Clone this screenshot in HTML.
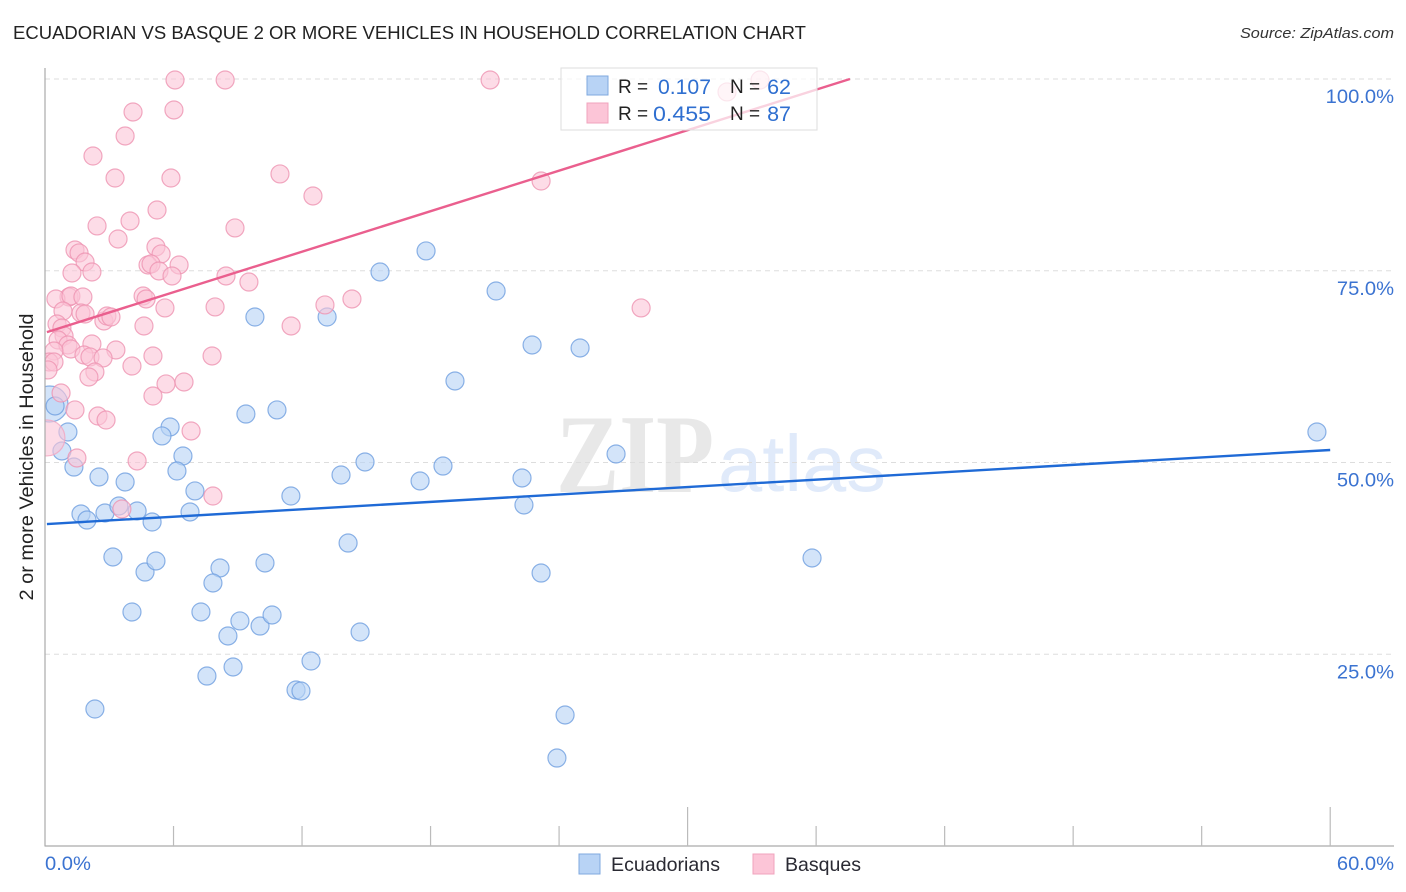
<!DOCTYPE html>
<html lang="en">
<head>
<meta charset="utf-8">
<title>Ecuadorian vs Basque 2 or More Vehicles in Household Correlation Chart</title>
<style>
html,body{margin:0;padding:0;background:#fff;width:1406px;height:892px;overflow:hidden}
svg{display:block}
text{font-family:"Liberation Sans",sans-serif}
</style>
</head>
<body>
<svg id="chart" width="1406" height="892" viewBox="0 0 1406 892" xmlns="http://www.w3.org/2000/svg">
  <defs>
    <clipPath id="plot-clip"><rect x="45" y="68" width="1349" height="778"></rect></clipPath>
  </defs>
  <text x="13" y="39" font-size="18.5" fill="#222" textLength="793" lengthAdjust="spacingAndGlyphs">ECUADORIAN VS BASQUE 2 OR MORE VEHICLES IN HOUSEHOLD CORRELATION CHART</text>
  <text x="1394" y="38" font-size="15" font-style="italic" fill="#333" text-anchor="end" textLength="154" lengthAdjust="spacingAndGlyphs">Source: ZipAtlas.com</text>

  <g>
    <text x="556" y="492" style="font-family:'Liberation Serif',serif;font-weight:bold" font-size="112" fill="#e8e8e8" textLength="158" lengthAdjust="spacingAndGlyphs">ZIP</text>
    <text x="718" y="491" font-size="80" fill="#e0eafa" textLength="168" lengthAdjust="spacingAndGlyphs">atlas</text>
  </g>

  <g id="grid"></g>
  <g id="points-ecuadorian" clip-path="url(#plot-clip)"></g>
  <g id="points-basque" clip-path="url(#plot-clip)"></g>
  <g id="trends" clip-path="url(#plot-clip)"></g>
  <g id="axes"></g>

  <text transform="translate(33,457) rotate(-90)" font-size="19" fill="#222" text-anchor="middle" textLength="287" lengthAdjust="spacingAndGlyphs">2 or more Vehicles in Household</text>

  <g>
    <rect x="561" y="68" width="256" height="62" fill="#fff" fill-opacity="0.72" stroke="#ddd" stroke-width="1"></rect>
    <rect x="587" y="76" width="21" height="19" fill="#b8d3f5" stroke="#7fa8df" stroke-width="1"></rect>
    <rect x="587" y="103" width="21" height="20" fill="#fcc5d7" stroke="#f0a3bc" stroke-width="1"></rect>
    <text x="618" y="93" font-size="19" fill="#222">R =</text>
    <text x="711" y="94" font-size="21.5" fill="#2f6fd0" text-anchor="end" textLength="53" lengthAdjust="spacingAndGlyphs">0.107</text>
    <text x="730" y="93" font-size="19" fill="#222">N =</text>
    <text x="791" y="94" font-size="21.5" fill="#2f6fd0" text-anchor="end">62</text>
    <text x="618" y="120" font-size="19" fill="#222">R =</text>
    <text x="711" y="121" font-size="21.5" fill="#2f6fd0" text-anchor="end" textLength="58" lengthAdjust="spacingAndGlyphs">0.455</text>
    <text x="730" y="120" font-size="19" fill="#222">N =</text>
    <text x="791" y="121" font-size="21.5" fill="#2f6fd0" text-anchor="end">87</text>
  </g>

  <g>
    <rect x="579" y="854" width="21" height="20" fill="#b8d3f5" stroke="#7fa8df" stroke-width="1"></rect>
    <text x="611" y="871" font-size="19.5" fill="#2a2a33" textLength="109" lengthAdjust="spacingAndGlyphs">Ecuadorians</text>
    <rect x="753" y="854" width="21" height="20" fill="#fcc5d7" stroke="#f0a3bc" stroke-width="1"></rect>
    <text x="785" y="871" font-size="19.5" fill="#2a2a33" textLength="76" lengthAdjust="spacingAndGlyphs">Basques</text>
  </g>
</svg>

<script>
const ecuadorianX = [0.47,1.07,0.79,1.35,2.52,3.74,1.68,1.96,2.8,3.45,4.3,5.0,3.17,4.67,5.18,4.06,2.33,5.84,5.46,6.44,6.16,7.0,6.77,9.38,10.83,9.8,13.17,8.17,7.84,7.28,9.1,8.54,10.04,10.6,10.27,8.78,7.56,12.42,11.72,11.95,14.71,14.15,11.48,13.82,14.94,17.51,18.58,19.14,15.64,17.79,21.06,22.74,24.98,22.27,22.36,23.16,24.28,23.9,26.66,35.81,59.38];
const ecuadorianY = [57.37,53.98,51.5,49.41,48.11,47.46,43.29,42.5,43.42,44.33,43.68,42.24,37.68,35.72,37.16,30.51,17.86,54.63,53.46,50.85,48.89,46.29,43.55,56.32,56.85,68.97,68.97,36.25,34.29,30.51,29.34,27.38,28.68,30.12,36.9,23.34,22.16,24.12,20.34,20.21,27.9,39.5,45.63,48.37,50.07,47.59,49.54,60.63,74.84,77.58,72.36,65.32,64.93,47.98,44.46,35.59,17.08,11.47,51.11,37.55,53.98];
const ecuadorianLargeX = [0.23];
const ecuadorianLargeY = [57.63];

const basqueX = [6.07,8.41,20.78,33.38,31.84,4.11,6.02,3.74,2.24,3.27,5.88,10.97,12.51,23.16,5.23,3.97,2.43,3.41,8.87,5.18,1.4,1.59,5.42,1.87,4.81,4.95,6.26,1.26,2.19,5.32,5.93,8.45,9.52,1.12,0.51,1.21,1.77,4.58,4.72,5.6,7.94,13.07,14.33,27.83,11.49,0.84,1.68,1.87,2.75,2.89,3.08,0.56,0.79,0.89,4.62,0.61,1.07,1.21,2.19,3.31,0.42,1.82,2.1,2.71,7.8,5.04,0.19,0.42,4.06,2.33,2.05,5.65,6.49,0.75,5.04,1.4,2.47,2.85,6.82,1.49,4.3,7.84,3.59,0.14];
const basqueY = [99.87,99.87,99.87,99.87,98.31,95.7,95.96,92.57,89.96,87.09,87.09,87.62,84.75,86.7,82.92,81.49,80.84,79.14,80.58,78.1,77.71,77.32,77.19,76.14,75.75,75.88,75.75,74.71,74.84,74.97,74.32,74.32,73.53,71.58,71.32,71.71,71.58,71.71,71.32,70.15,70.28,70.54,71.32,70.15,67.8,69.75,69.49,69.36,68.45,69.1,68.97,68.06,67.54,66.5,67.8,65.97,65.32,64.8,65.45,64.67,64.54,64.02,63.76,63.63,63.89,63.89,63.1,63.1,62.58,61.8,61.15,60.24,60.5,59.06,58.67,56.85,56.06,55.54,54.11,50.59,50.2,45.63,43.94,62.07];
const basqueLargeX = [0.09];
const basqueLargeY = [53.2];

const ecuadorianTrendX = [0.09,60];
const ecuadorianTrendY = [41.98,51.63];
const basqueTrendX = [0.09,37.58];
const basqueTrendY = [67.0,100];

const yGridValues = [100,75,50,25];
const yTickLabels = ['100.0%','75.0%','50.0%','25.0%'];
const xTickValues = [6,12,18,24,30,36,42,48,54,60];
const xMajorTicks = [30,60];
const xEndLabels = ['0.0%','60.0%'];

const SVG_NS = 'http://www.w3.org/2000/svg';
function xScale(v){ return 45 + v * 21.42; }
function yScale(v){ return 846 - v * 7.67; }
function make(tag, attrs, parent){
  const el = document.createElementNS(SVG_NS, tag);
  for (const k in attrs) el.setAttribute(k, attrs[k]);
  parent.appendChild(el);
  return el;
}
function widen(textEl){
  const w = textEl.getComputedTextLength();
  textEl.setAttribute('textLength', (w * 1.06).toFixed(1));
  textEl.setAttribute('lengthAdjust', 'spacingAndGlyphs');
}

const gridG = document.getElementById('grid');
yGridValues.forEach(function(v){
  const line = make('line', {x1:45, x2:1394, y1:yScale(v), y2:yScale(v), stroke:'#dddddd', 'stroke-width':1, 'stroke-dasharray':'5 4'}, gridG);
  
  
});

function drawPoints(group, xs, ys, r, fill, opacity, stroke, name){
  xs.forEach(function(x, i){
    const c = make('circle', {cx:xScale(x), cy:yScale(ys[i]), r:r, fill:fill, 'fill-opacity':opacity, stroke:stroke, 'stroke-opacity':0.8, 'stroke-width':1.2}, group);
    
    
  });
}
const blueG = document.getElementById('points-ecuadorian');
const pinkG = document.getElementById('points-basque');
drawPoints(blueG, ecuadorianLargeX, ecuadorianLargeY, 18, '#b8d3f5', 0.62, '#6f9fe0', 'ecuadorian-point-large');
drawPoints(blueG, ecuadorianX, ecuadorianY, 9, '#b8d3f5', 0.62, '#6f9fe0', 'ecuadorian-point');
drawPoints(pinkG, basqueLargeX, basqueLargeY, 18, '#fcc5d7', 0.6, '#f3a5bf', 'basque-point-large');
drawPoints(pinkG, basqueX, basqueY, 9, '#fcc5d7', 0.6, '#ee93b2', 'basque-point');

const trendG = document.getElementById('trends');
const blueTrend = make('line', {x1:xScale(ecuadorianTrendX[0]), y1:yScale(ecuadorianTrendY[0]), x2:xScale(ecuadorianTrendX[1]), y2:yScale(ecuadorianTrendY[1]), stroke:'#1f6ad6', 'stroke-width':2.4}, trendG);


const pinkTrend = make('line', {x1:xScale(basqueTrendX[0]), y1:yScale(basqueTrendY[0]), x2:xScale(basqueTrendX[1]), y2:yScale(basqueTrendY[1]), stroke:'#ea5f8e', 'stroke-width':2.4}, trendG);



const axesG = document.getElementById('axes');
const yAxis = make('line', {x1:45, x2:45, y1:68, y2:846.5, stroke:'#aaaaaa', 'stroke-width':1.2}, axesG);


const xAxis = make('line', {x1:45, x2:1394, y1:846, y2:846, stroke:'#aaaaaa', 'stroke-width':1.2}, axesG);



xTickValues.forEach(function(v){
  const top = xMajorTicks.indexOf(v) >= 0 ? 807 : 826;
  const t = make('line', {x1:xScale(v), x2:xScale(v), y1:top, y2:846, stroke:'#bbbbbb', 'stroke-width':1.2}, axesG);
  
  
});

yTickLabels.forEach(function(label, i){
  const t = make('text', {x:1394, y:yScale(yGridValues[i]) + 24, 'font-size':19, fill:'#3b73d1', 'text-anchor':'end'}, axesG);
  t.textContent = label;
  
  
  widen(t);
});

const xLabelLeft = make('text', {x:xScale(0), y:870, 'font-size':19, fill:'#3b73d1'}, axesG);
xLabelLeft.textContent = xEndLabels[0];


widen(xLabelLeft);
const xLabelRight = make('text', {x:1394, y:870, 'font-size':19, fill:'#3b73d1', 'text-anchor':'end'}, axesG);
xLabelRight.textContent = xEndLabels[1];


widen(xLabelRight);
</script>
</body>
</html>
